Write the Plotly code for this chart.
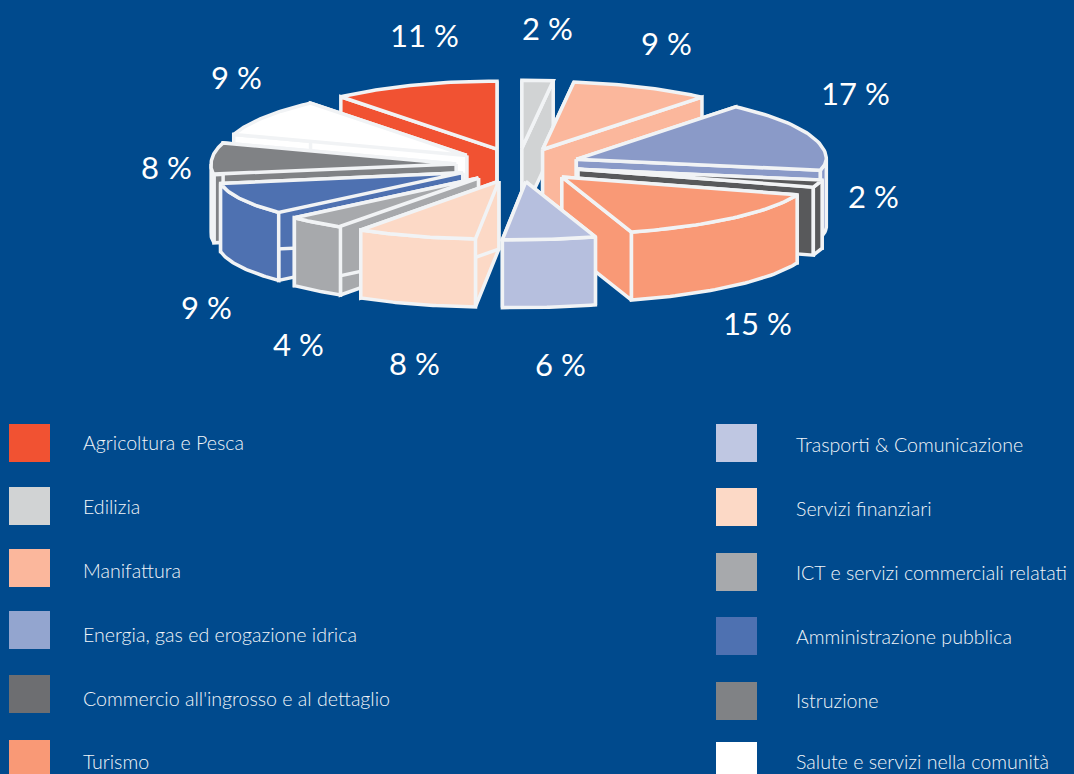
import math
import plotly.graph_objects as go

CATEGORIES = ["Agricoltura e Pesca", "Edilizia", "Manifattura", "Energia, gas ed erogazione idrica",
              "Commercio all'ingrosso e al dettaglio", "Turismo", "Trasporti & Comunicazione",
              "Servizi finanziari", "ICT e servizi commerciali relatati", "Amministrazione pubblica",
              "Istruzione", "Salute e servizi nella comunità"]
VALUES = [11, 2, 9, 17, 2, 15, 6, 8, 4, 9, 8, 9]
COLORS = ["#F15232", "#D1D3D4", "#FBB79C", "#8A9AC8", "#58595B", "#F99976",
          "#B6BFDE", "#FCD9C6", "#A7A9AC", "#4E71B1", "#808285", "#FFFFFF"]
SWATCH_COLORS = ["#F15232", "#D1D3D4", "#FBB79C", "#93A5CF", "#6D6E71", "#F99976",
                 "#BFC7E2", "#FCD9C6", "#A7A9AC", "#4E71B1", "#808285", "#FFFFFF"]

BG = "#004A8D"
EDGE = "#F1F3F5"
CX, CY, RX, RX_LEFT, RY, RY_FRONT, PULL, DEPTH, SHEAR = 518, 165, 250, 245, 68, 58, 62, 68, 8
K = RY / RX


def rim(theta, ax, ay):
    s, c = math.sin(theta), math.cos(theta)
    x = ax + (RX if s >= 0 else RX_LEFT) * s + SHEAR * min(c, 0)
    y = ay - (RY if c >= 0 else RY_FRONT) * c
    return x, y


def poly(pts, color):
    xs = [p[0] for p in pts] + [pts[0][0]]
    ys = [p[1] for p in pts] + [pts[0][1]]
    return go.Scatter(x=xs, y=ys, mode="lines", fill="toself", fillcolor=color,
                      line=dict(color=EDGE, width=3.5), hoverinfo="skip", showlegend=False)


total = sum(VALUES)
starts = []
cum = -float(VALUES[0])  # first slice ends at twelve o'clock
for v in VALUES:
    starts.append(cum)
    cum += v
slices = []
for v, s, c in zip(VALUES, starts, COLORS):
    a0 = 2 * math.pi * s / total
    a1 = 2 * math.pi * (s + v) / total
    mid = (a0 + a1) / 2
    slices.append((a0, a1, mid, c))
slices.sort(key=lambda t: -math.cos(t[2]))

fig = go.Figure()
for a0, a1, mid, c in slices:
    ax = CX + PULL * math.sin(mid)
    ay = CY - PULL * K * math.cos(mid)
    n = 40
    arc = [rim(a0 + (a1 - a0) * i / n, ax, ay) for i in range(n + 1)]
    down = lambda p: (p[0], p[1] + DEPTH)
    # radial walls
    fig.add_trace(poly([(ax, ay), arc[0], down(arc[0]), (ax, ay + DEPTH)], c))
    fig.add_trace(poly([(ax, ay), arc[-1], down(arc[-1]), (ax, ay + DEPTH)], c))
    # outer wall, front-facing part only
    front = [p for p, i in zip(arc, range(n + 1))
             if math.cos(a0 + (a1 - a0) * i / n) <= 0]
    if len(front) > 1:
        fig.add_trace(poly(front + [down(p) for p in reversed(front)], c))
    # top
    fig.add_trace(poly([(ax, ay)] + arc, c))

annotations = []
LABEL_POS = [(424, 35), (547, 28), (666, 43), (855, 93), (873, 196), (757, 323),
             (560, 364), (414, 363), (298, 344), (206, 307), (166, 167), (236, 77)]
for v, (x, y) in zip(VALUES, LABEL_POS):
    annotations.append(dict(x=x, y=y, text=f"{v} %", showarrow=False, xanchor="center", yanchor="middle",
                            font=dict(family="Lato", size=31, color="white", weight=400)))

shapes = []
SW_Y = [443, 506, 568, 630, 694, 759, 443, 507, 572, 636, 701, 761]
TXT_Y = [442, 506, 570, 634, 698, 761, 444, 508, 572, 636, 700, 761]
for i, name in enumerate(CATEGORIES):
    sx = 9 if i < 6 else 716
    tx = 81 if i < 6 else 794
    shapes.append(dict(type="rect", x0=sx, x1=sx + 41, y0=SW_Y[i] - 19, y1=SW_Y[i] + 19,
                       fillcolor=SWATCH_COLORS[i], line=dict(width=0), layer="below"))
    annotations.append(dict(x=tx, y=TXT_Y[i], text=name, showarrow=False, xanchor="left", yanchor="middle",
                            font=dict(family="Lato", size=19.6, color="#F0F4F8", weight=300)))

fig.update_layout(
    width=1074, height=774, autosize=False, margin=dict(l=0, r=0, t=0, b=0),
    paper_bgcolor=BG, plot_bgcolor=BG, showlegend=False,
    xaxis=dict(range=[0, 1074], visible=False, fixedrange=True),
    yaxis=dict(range=[774, 0], visible=False, fixedrange=True),
    annotations=annotations, shapes=shapes,
)
fig.write_html("out.html", config=dict(displayModeBar=False),
               post_script="document.body.style.margin='0';document.body.style.overflow='hidden';"
                           "document.documentElement.style.background='#004A8D';")
